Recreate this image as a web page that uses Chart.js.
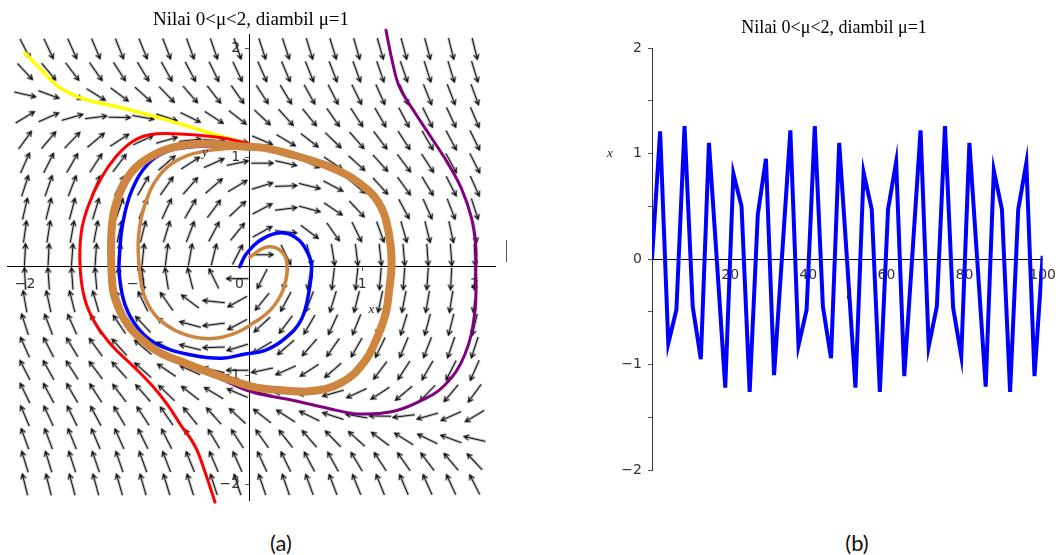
<!DOCTYPE html>
<html>
<head>
<meta charset="utf-8">
<script src="https://cdn.jsdelivr.net/npm/chart.js@4.4.1/dist/chart.umd.min.js"></script>
<style>
  body { margin: 0; background: #fff; }
  #wrap { position: relative; width: 1064px; height: 555px; overflow: hidden; }
  .box { position: absolute; top: 0; }
  .cap { position: absolute; top: 529px; font: 22px Lato, "Open Sans", sans-serif; color: #111; transform: translateX(-50%); }
</style>
</head>
<body>
<div id="wrap">
  <div class="box" style="left:0"><canvas id="phase" width="560" height="520"></canvas></div>
  <div class="box" style="left:560px"><canvas id="series" width="504" height="520"></canvas></div>
  <div style="position:absolute;left:506px;top:240px;height:22px;border-left:1px solid #555"></div>
  <div class="cap" style="left:281px">(a)</div>
  <div class="cap" style="left:857px">(b)</div>
</div>
<script>
const titleText = 'Nilai 0<\u03bc<2, diambil \u03bc=1';

// (a) direction field grid
const arrowXs = [-2, -1.79, -1.58, -1.37, -1.16, -0.95, -0.74, -0.53, -0.32, -0.11, 0.11, 0.32, 0.53, 0.74, 0.95, 1.16, 1.37, 1.58, 1.79, 2];
const arrowYs = [2, 1.79, 1.58, 1.37, 1.16, 0.95, 0.74, 0.53, 0.32, 0.11, -0.11, -0.32, -0.53, -0.74, -0.95, -1.16, -1.37, -1.58, -1.79, -2];
// arrow direction in degrees (counter-clockwise from +x), one row per arrowYs value
const arrowAngles = [
  [-63,-65,-66,-67,-68,-68,-69,-70,-71,-71,-72,-72,-73,-73,-74,-74,-75,-75,-76,-76],
  [-47,-50,-53,-55,-57,-59,-61,-62,-64,-65,-66,-67,-68,-69,-70,-71,-71,-72,-73,-73],
  [-13,-20,-26,-32,-37,-42,-46,-49,-52,-55,-57,-59,-61,-63,-64,-66,-67,-68,-69,-70],
  [31,24,16,7,-1,-10,-18,-26,-33,-38,-43,-48,-51,-55,-57,-60,-62,-64,-65,-67],
  [54,50,46,40,33,25,16,6,-4,-14,-23,-31,-38,-44,-49,-53,-57,-60,-62,-64],
  [66,63,60,57,53,48,41,33,24,12,0,-13,-24,-34,-42,-48,-53,-57,-61,-63],
  [72,71,69,67,64,60,55,49,41,31,17,2,-14,-28,-40,-48,-54,-59,-63,-66],
  [77,76,75,73,71,68,65,60,53,43,28,7,-15,-34,-47,-56,-62,-66,-69,-72],
  [82,81,80,79,78,76,73,69,62,51,29,-6,-37,-55,-64,-70,-74,-76,-78,-80],
  [87,87,86,86,85,84,83,80,76,63,0,-64,-76,-81,-83,-84,-85,-86,-86,-87],
  [93,94,94,95,96,97,99,104,116,180,-117,-104,-100,-97,-96,-95,-94,-94,-93,-93],
  [100,102,104,106,110,116,125,143,174,-151,-129,-118,-111,-107,-104,-102,-101,-100,-99,-98],
  [108,111,114,118,124,133,146,165,-173,-152,-137,-127,-120,-115,-112,-109,-107,-105,-104,-103],
  [114,117,121,126,132,140,152,166,-178,-163,-149,-139,-131,-125,-120,-116,-113,-111,-109,-108],
  [117,119,123,127,132,138,146,156,167,180,-168,-156,-147,-139,-132,-127,-123,-120,-117,-114],
  [116,118,120,123,127,131,136,142,149,157,166,176,-174,-164,-155,-147,-140,-134,-130,-126],
  [113,115,116,118,120,123,125,129,132,137,142,147,154,162,170,179,-173,-164,-156,-149],
  [110,111,112,113,114,116,117,119,121,123,125,128,131,134,138,143,148,154,160,167],
  [107,107,108,109,109,110,111,112,113,114,115,116,118,119,121,123,125,127,130,133],
  [104,104,105,105,106,106,107,107,108,108,109,109,110,111,112,112,113,114,115,117]
];

// (a) trajectories, [x, y] pairs
const yellowPath = [[-2.00,1.96],[-1.84,1.79],[-1.70,1.65],[-1.48,1.54],[-1.19,1.47],[-0.89,1.39],[-0.59,1.30],[-0.30,1.21],[-0.03,1.13],[0.13,1.09],[0.40,1.02],[0.70,0.92],[0.93,0.80],[1.11,0.64],[1.21,0.43],[1.26,0.21],[1.26,0.0]];
const redPath = [[-0.31,-2.16],[-0.40,-1.88],[-0.49,-1.64],[-0.61,-1.46],[-0.73,-1.27],[-0.87,-1.09],[-1.05,-0.90],[-1.23,-0.72],[-1.38,-0.51],[-1.47,-0.29],[-1.51,0.0],[-1.50,0.31],[-1.44,0.55],[-1.33,0.80],[-1.19,1.01],[-1.04,1.15],[-0.89,1.21],[-0.68,1.22],[-0.30,1.19],[-0.02,1.13],[0.40,1.02],[0.70,0.92],[0.93,0.80]];
const bluePath = [[-0.09,0.0],[-0.03,0.12],[0.12,0.26],[0.30,0.31],[0.44,0.24],[0.53,0.09],[0.55,0.0],[0.53,-0.20],[0.46,-0.48],[0.31,-0.66],[0.13,-0.77],[-0.04,-0.80],[-0.25,-0.84],[-0.52,-0.81],[-0.81,-0.72],[-0.99,-0.57],[-1.11,-0.35],[-1.16,-0.08],[-1.16,0.10],[-1.13,0.40],[-1.05,0.70],[-0.90,0.95],[-0.73,1.06],[-0.52,1.10],[-0.25,1.11],[0.02,1.09],[0.30,1.04]];
const innerBrownPath = [[0.0,0.09],[0.15,0.18],[0.27,0.15],[0.33,0.03],[0.30,-0.20],[0.19,-0.39],[0.04,-0.51],[-0.13,-0.61],[-0.37,-0.66],[-0.61,-0.61],[-0.81,-0.48],[-0.93,-0.29],[-0.98,-0.05],[-0.99,0.28],[-0.93,0.58],[-0.81,0.83],[-0.64,0.98],[-0.40,1.06],[-0.10,1.09],[0.13,1.08]];
const cyclePath = [[-0.04,1.10],[0.13,1.09],[0.40,1.02],[0.56,0.97],[0.70,0.92],[0.83,0.86],[0.93,0.80],[1.03,0.72],[1.11,0.64],[1.17,0.54],[1.21,0.43],[1.25,0.21],[1.26,0.0],[1.24,-0.20],[1.21,-0.42],[1.14,-0.63],[1.02,-0.87],[0.82,-1.06],[0.55,-1.14],[0.25,-1.13],[0.02,-1.10],[-0.28,-1.00],[-0.61,-0.87],[-0.78,-0.80],[-0.90,-0.72],[-1.08,-0.54],[-1.20,-0.29],[-1.23,-0.05],[-1.23,0.34],[-1.19,0.58],[-1.08,0.83],[-0.93,0.98],[-0.70,1.09],[-0.40,1.13],[-0.25,1.12],[-0.04,1.10]];
const purplePath = [[1.21,2.17],[1.27,1.87],[1.33,1.65],[1.47,1.41],[1.61,1.19],[1.76,0.95],[1.88,0.72],[1.97,0.45],[2.01,0.18],[2.01,0.0],[2.00,-0.42],[1.91,-0.81],[1.73,-1.09],[1.50,-1.24],[1.26,-1.33],[0.96,-1.35],[0.70,-1.30],[0.40,-1.23],[0.10,-1.17],[-0.04,-1.13],[-0.28,-1.02],[-0.61,-0.88]];

// (b) x(t), 49 samples
const times = [0,2.08,4.17,6.25,8.33,10.42,12.5,14.58,16.67,18.75,20.83,22.92,25,27.08,29.17,31.25,33.33,35.42,37.5,39.58,41.67,43.75,45.83,47.92,50,52.08,54.17,56.25,58.33,60.42,62.5,64.58,66.67,68.75,70.83,72.92,75,77.08,79.17,81.25,83.33,85.42,87.5,89.58,91.67,93.75,95.83,97.92,100];
const xValues = [0,1.21,-0.80,-0.48,1.26,-0.45,-0.95,1.10,-0.05,-1.22,0.81,0.50,-1.26,0.42,0.95,-1.10,0.05,1.22,-0.82,-0.48,1.26,-0.45,-0.94,1.10,-0.05,-1.22,0.82,0.47,-1.26,0.47,0.92,-1.11,0.05,1.22,-0.83,-0.45,1.26,-0.46,-0.92,1.10,-0.05,-1.21,0.84,0.47,-1.26,0.47,0.91,-1.11,0.03];

const minus = v => (v < 0 ? '\u2212' + Math.abs(v) : String(v));
const tickFont = { family: 'DejaVu Sans', size: 14 };

function makeArrow(len) {
  const c = document.createElement('canvas');
  c.width = len + 2; c.height = 9;
  const g = c.getContext('2d');
  g.strokeStyle = '#111';
  g.lineWidth = 1.3;
  g.beginPath();
  g.moveTo(1, 4.5); g.lineTo(len + 1, 4.5);
  g.moveTo(len - 4, 1.7); g.lineTo(len + 1, 4.5); g.lineTo(len - 4, 7.3);
  g.stroke();
  return c;
}

const axisNames = {
  id: 'axisNames',
  afterDraw(chart, args, opts) {
    const { ctx, scales } = chart;
    ctx.save();
    ctx.font = 'italic 13px "Liberation Serif"';
    ctx.fillStyle = '#222';
    ctx.textAlign = 'center';
    ctx.textBaseline = 'middle';
    opts.items.forEach(it => {
      ctx.fillText(it.text, scales.x.getPixelForValue(it.x), scales.y.getPixelForValue(it.y));
    });
    ctx.restore();
  }
};

const arrowPoints = [];
arrowYs.forEach((y, i) => {
  arrowXs.forEach((x, j) => arrowPoints.push({ x: x, y: y, a: arrowAngles[i][j] }));
});
const toXY = path => path.map(p => ({ x: p[0], y: p[1] }));

function trail(path, color, width) {
  return {
    data: toXY(path), showLine: true, borderColor: color, borderWidth: width,
    pointRadius: 0, tension: 0.4, clip: false, borderCapStyle: 'round', borderJoinStyle: 'round'
  };
}

new Chart(document.getElementById('phase'), {
  type: 'scatter',
  data: {
    datasets: [
      trail(cyclePath, '#cd853f', 8),
      trail(innerBrownPath, '#cd853f', 3.5),
      trail(bluePath, '#0000ff', 3.5),
      trail(purplePath, '#800080', 3),
      trail(redPath, '#ff0000', 3),
      trail(yellowPath, '#ffff00', 3.5),
      {
        data: arrowPoints, showLine: false, pointStyle: makeArrow(22), pointRadius: 3,
        pointRotation: ctx => -ctx.raw.a
      }
    ]
  },
  options: {
    responsive: false, animation: false, events: [],
    layout: { padding: { left: 7, right: 65, top: 0, bottom: 20 } },
    plugins: {
      legend: { display: false }, tooltip: { enabled: false },
      title: {
        display: true, text: titleText, color: '#000',
        font: { family: 'Liberation Serif', size: 19, weight: 'normal' },
        padding: { top: 8.3, bottom: 3.4 }
      },
      axisNames: { items: [{ text: 'x', x: 1.08, y: -0.39 }, { text: 'y', x: -0.4, y: 1.05 }] }
    },
    scales: {
      x: {
        type: 'linear', min: -2.16, max: 2.18, position: { y: 0 },
        afterFit: s => { s.height = 0; },
        border: { color: '#000' },
        grid: { drawOnChartArea: false, tickLength: 4, color: '#555' },
        ticks: {
          stepSize: 1, includeBounds: false, font: tickFont, color: '#333', padding: 5, maxRotation: 0,
          callback: v => (v === 0 ? '0\u2003\u2002' : minus(v))
        }
      },
      y: {
        type: 'linear', min: -2.14, max: 2.13, position: { x: 0 },
        afterFit: s => { s.width = 0; },
        border: { color: '#000' },
        grid: { drawOnChartArea: false, tickLength: 4, color: '#555' },
        ticks: {
          stepSize: 1, includeBounds: false, font: tickFont, color: '#333', padding: 6,
          callback: v => (v === 0 ? '' : minus(v) + '\u2002\u2009')
        }
      }
    }
  },
  plugins: [axisNames]
});

new Chart(document.getElementById('series'), {
  type: 'scatter',
  data: {
    datasets: [{
      data: times.map((t, i) => ({ x: t, y: xValues[i] })),
      showLine: true, borderColor: '#0000ff', borderWidth: 4, pointRadius: 0, tension: 0
    }]
  },
  options: {
    responsive: false, animation: false, events: [],
    layout: { padding: { left: 58, right: 14, top: 0, bottom: 50 } },
    plugins: {
      legend: { display: false }, tooltip: { enabled: false },
      title: {
        display: true, text: titleText, color: '#000',
        font: { family: 'Liberation Serif', size: 18, weight: 'normal' },
        padding: { top: 17.6, bottom: 8.8 }
      },
      axisNames: { items: [{ text: 'x', x: -10.8, y: 1.0 }, { text: 't', x: 50.2, y: -0.35 }] }
    },
    scales: {
      x: {
        type: 'linear', min: 0, max: 100, position: { y: 0 },
        afterFit: s => { s.height = 0; },
        border: { color: '#000' },
        grid: { display: false, drawTicks: false },
        ticks: {
          stepSize: 20, font: tickFont, color: '#333', padding: 8, maxRotation: 0,
          callback: v => (v === 0 ? '' : String(v))
        }
      },
      y: {
        type: 'linear', min: -2, max: 2, position: 'left',
        afterFit: s => { s.width = 34; },
        border: { color: '#333' },
        grid: { drawOnChartArea: false, tickLength: 4, color: '#555' },
        ticks: {
          stepSize: 0.5, font: tickFont, color: '#333', padding: 6,
          callback: v => (Number.isInteger(v) ? minus(v) : '')
        }
      }
    }
  },
  plugins: [axisNames]
});
</script>
</body>
</html>
